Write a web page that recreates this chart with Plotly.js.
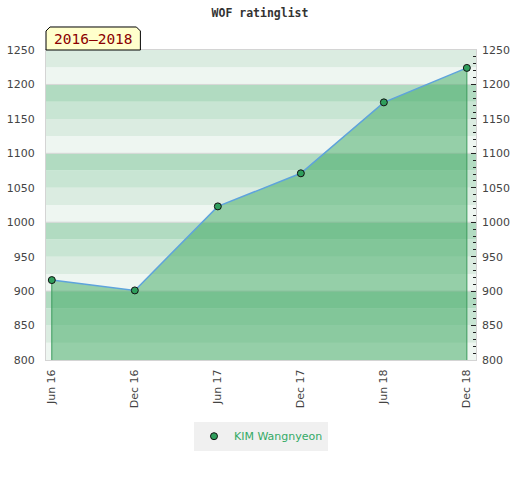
<!DOCTYPE html>
<html>
<head>
<meta charset="utf-8">
<script src="https://cdn.plot.ly/plotly-3.0.1.min.js"></script>
<style>html,body{margin:0;padding:0;background:#fff;}#chart{width:520px;height:480px;}</style>
</head>
<body>
<div id="chart"></div>
<script>
// ---- data ----
const periods = ["Jun 16", "Dec 16", "Jun 17", "Dec 17", "Jun 18", "Dec 18"];
const ratings = [916, 901, 1023, 1071, 1174, 1224];
const playerName = "KIM Wangnyeon";
const chartTitle = "WOF ratinglist";
const periodLabel = "2016–2018";
const yMin = 800, yMax = 1250;

// ---- styles ----
const bandColors = ["#eef6f1", "#dbece1", "#c8e5d3", "#b1dbc1"];
const greenFill = "rgba(60,168,96,0.5)";

const shapes = [];
let i = 0;
for (let v = yMin; v < yMax; v += 25, i++) {
  shapes.push({type: "rect", xref: "paper", yref: "y", x0: 0, x1: 1, y0: v, y1: v + 25,
    fillcolor: bandColors[i % 4], line: {width: 0}, layer: "below"});
}
for (let v = yMin + 100; v < yMax; v += 100) {
  shapes.push({type: "line", xref: "paper", yref: "y", x0: 0, x1: 1, y0: v, y1: v,
    line: {color: "#d6d6d6", width: 1}, layer: "below"});
}
// label box with cut corners (paper coords)
const bx1 = 0.2195, by0 = 1.0, by1 = 1.0742, cx = 0.0093, cy = 0.0129;
shapes.push({type: "path", xref: "paper", yref: "paper",
  path: `M 0 ${by0} L 0 ${by1 - cy} L ${cx} ${by1} L ${bx1 - cx} ${by1} L ${bx1} ${by1 - cy} L ${bx1} ${by0} Z`,
  fillcolor: "#ffffcc", line: {color: "#000", width: 1}, layer: "above"});

const n = periods.length;
const traces = [
  { // filled area
    x: [periods[0]].concat(periods, [periods[n - 1]]),
    y: [yMin].concat(ratings, [yMin]),
    type: "scatter", mode: "lines", fill: "toself", fillcolor: greenFill,
    line: {width: 0}, hoverinfo: "skip", showlegend: false
  },
  { // vertical edges
    x: [periods[0], periods[0], null, periods[n - 1], periods[n - 1]],
    y: [yMin, ratings[0], null, yMin, ratings[n - 1]],
    type: "scatter", mode: "lines", line: {color: "#3a9a5c", width: 1},
    hoverinfo: "skip", showlegend: false
  },
  { // line
    x: periods, y: ratings, type: "scatter", mode: "lines", yaxis: "y2",
    line: {color: "#5ea3dc", width: 1.5}, showlegend: false
  },
  { // markers
    x: periods, y: ratings, type: "scatter", mode: "markers", name: playerName, yaxis: "y2",
    marker: {color: "#2f9e5c", size: 7, line: {color: "#111", width: 1}}
  }
];

const tickFont = {family: "DejaVu Sans, sans-serif", size: 11, color: "#444"};
const layout = {
  width: 520, height: 480,
  margin: {l: 45.5, r: 44, t: 50, b: 120},
  paper_bgcolor: "#fff", plot_bgcolor: "#fff",
  title: {text: chartTitle, x: 0.5, xanchor: "center", y: 0.973, yanchor: "middle",
    font: {family: "DejaVu Sans Mono, monospace", size: 11.5, color: "#333", weight: "bold"}},
  xaxis: {type: "category", range: [-0.07, 5.11], tickangle: -90, tickfont: tickFont,
    showgrid: false, zeroline: false, showline: true, mirror: true, linecolor: "#d4d4d4",
    ticks: "", ticklabelstandoff: 4, fixedrange: true},
  yaxis: {range: [yMin, yMax], dtick: 50, tick0: 0, tickfont: tickFont, showgrid: false,
    zeroline: false, showline: true, mirror: true, linecolor: "#d4d4d4",
    ticks: "", ticklabelstandoff: 8, fixedrange: true},
  yaxis2: {range: [yMin, yMax], overlaying: "y", side: "right", dtick: 50, tick0: 0,
    tickfont: tickFont, showgrid: false, zeroline: false, showline: false,
    ticks: "inside", ticklen: 5, tickcolor: "#222", tickwidth: 1,
    minor: {dtick: 10, ticks: "inside", ticklen: 3, tickcolor: "#222", showgrid: false},
    ticklabelstandoff: 5, fixedrange: true},
  shapes: shapes,
  annotations: [{xref: "paper", yref: "paper", x: bx1 / 2, y: 1.0355, xanchor: "center",
    yanchor: "middle", showarrow: false, text: periodLabel,
    font: {family: "DejaVu Sans Mono, monospace", size: 14.5, color: "#8b0000"}}],
  showlegend: true,
  legend: {orientation: "h", x: 0.5, xanchor: "center", y: -0.199, yanchor: "top",
    itemwidth: 30, bgcolor: "#f0f0f0",
    font: {family: "DejaVu Sans, sans-serif", size: 11, color: "#33aa66"}},
  hovermode: false
};

Plotly.newPlot("chart", traces, layout, {staticPlot: true, displayModeBar: false});
</script>
</body>
</html>
